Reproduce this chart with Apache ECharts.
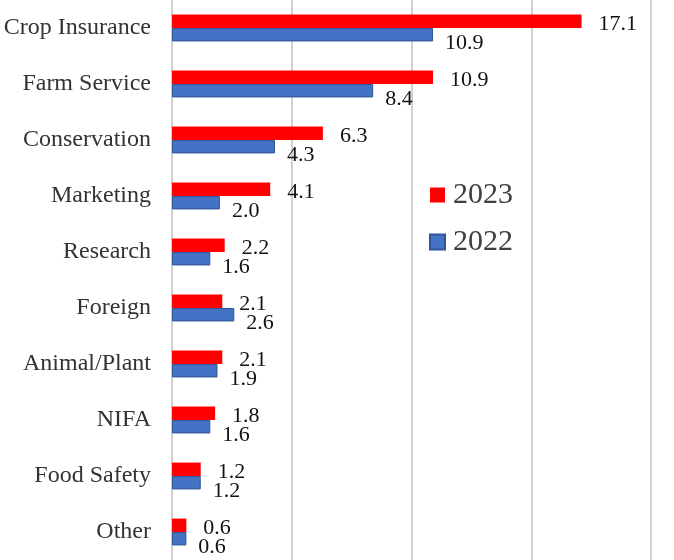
<!DOCTYPE html>
<html><head><meta charset="utf-8">
<script src="https://cdn.jsdelivr.net/npm/echarts@6/dist/echarts.min.js"></script>
<style>html,body{margin:0;padding:0;background:#fff}#c{width:674px;height:560px}</style>
</head><body><div id="c"></div>
<script>
const categories = ['Crop Insurance','Farm Service','Conservation','Marketing','Research','Foreign','Animal/Plant','NIFA','Food Safety','Other'];
const values2023 = [17.1,10.9,6.3,4.1,2.2,2.1,2.1,1.8,1.2,0.6];
const values2022 = [10.9,8.4,4.3,2.0,1.6,2.6,1.9,1.6,1.2,0.6];
const seriesNames = ['2023','2022'];

const font = '"Liberation Serif","Times New Roman",serif';
const chart = echarts.init(document.getElementById('c'), null, {renderer:'canvas'});
chart.setOption({
  animation:false,
  backgroundColor:'#fff',
  grid:{left:172, right:23, top:0, height:567, containLabel:false},
  legend:{
    orient:'vertical', left:424, top:175, itemWidth:15, itemHeight:15, itemGap:17,
    icon:'rect',
    textStyle:{fontFamily:font, fontSize:30, color:'#404040', padding:[0,0,0,3]},
    data:seriesNames
  },
  xAxis:{type:'value', min:0, max:20, interval:5,
    axisLabel:{show:false}, axisLine:{show:false}, axisTick:{show:false},
    splitLine:{show:true, lineStyle:{color:'#d0d0d0', width:2}}},
  yAxis:{type:'category', data:categories, inverse:true,
    axisLine:{show:true, lineStyle:{color:'#d0d0d0', width:2}},
    axisTick:{show:false},
    axisLabel:{fontFamily:font, fontSize:24, color:'#333', margin:21, padding:[7,0,0,0]}},
  series:[
    {name:seriesNames[0], type:'bar', data:values2023, barGap:'0%', barCategoryGap:'52%',
     itemStyle:{color:'#ff0000'},
     label:{show:true, position:'right', distance:17, offset:[0,3], fontFamily:font, fontSize:22, color:'#111',
       formatter:p=>p.value.toFixed(1)}},
    {name:seriesNames[1], type:'bar', data:values2022, barGap:'0%', barCategoryGap:'52%',
     itemStyle:{color:'#4472c4', borderColor:'#2f5597', borderWidth:1},
     label:{show:true, position:'right', distance:12, offset:[0,8], fontFamily:font, fontSize:22, color:'#111',
       formatter:p=>p.value.toFixed(1)}}
  ]
});
</script></body></html>
